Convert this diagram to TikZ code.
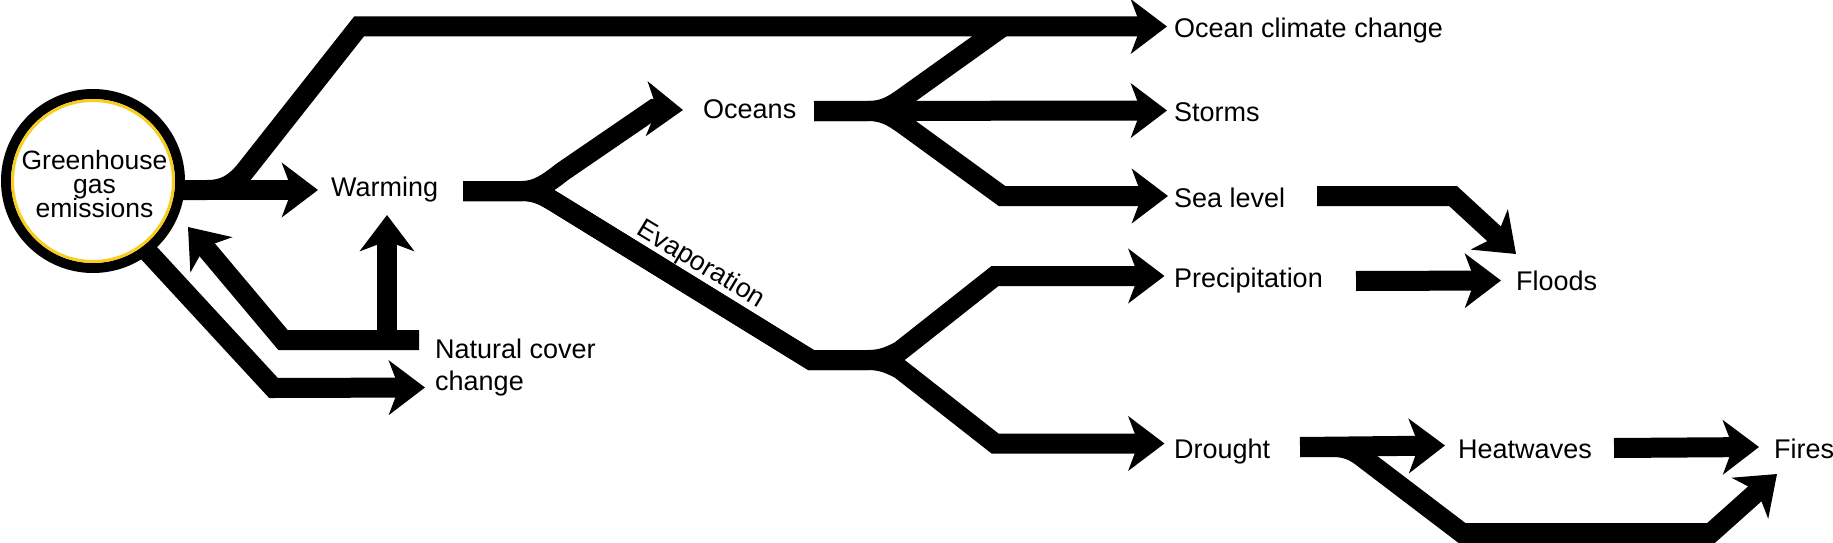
\documentclass[tikz,border=0pt]{standalone}
\usepackage{fontspec}
\setmainfont{Liberation Sans}
\usetikzlibrary{arrows.meta}
\pgfdeclarelayer{bg}
\pgfsetlayers{bg,main}
\definecolor{ringgold}{RGB}{248,206,30}
\begin{document}
\lineskiplimit=-100pt\relax
\begin{tikzpicture}[x=1pt, y=-1pt,
  flow/.style={line width=20pt, line join=miter, -{Stealth[length=36pt,width=54pt,inset=10pt]}},
  link/.style={line width=20pt, line join=miter},
  txt/.style={font=\fontsize{27}{32}\selectfont, inner sep=0pt},
  lbl/.style={txt, anchor=base west}]
\useasboundingbox (0,0) rectangle (1833,543);

% ---- circle ----
\node[circle, draw=black, line width=10pt, fill=white, minimum size=174pt, inner sep=0pt] (ghg) at (93,181) {};
\draw[ringgold, line width=3pt] (ghg.center) circle[radius=80.5pt];
\node[txt, align=center, font=\fontsize{26.5}{24.2}\selectfont] (ghgt) at (94.5,184) {Greenhouse\\gas\\emissions};

% ---- labels ----
\node[lbl] (warming) at (331,196) {Warming};
\node[lbl] (oceans) at (703,118) {Oceans};
\node[lbl] (occ) at (1174,37.5) {Ocean climate change};
\node[lbl] (storms) at (1174,121.5) {Storms};
\node[lbl] (sealevel) at (1174,207.5) {Sea level};
\node[lbl] (precip) at (1174,287.3) {Precipitation};
\node[lbl] (floods) at (1516,290.7) {Floods};
\node[lbl] (drought) at (1174,458.3) {Drought};
\node[lbl] (heat) at (1458,458.3) {Heatwaves};
\node[lbl] (fires) at (1774,458) {Fires};
\node[txt, align=left, anchor=west] (natural) at (435,367.3) {Natural cover\\change};
\node[txt, rotate=-31, anchor=base] (evap) at (697,271) {Evaporation};

% ---- connector ends ----
\coordinate (toWarming) at (318,190);
\coordinate (toOCC) at (1167,26.5);
\coordinate (natStart) at (112,213);
\coordinate (toNatural) at (425,387.5);
\coordinate (natTail) at (419,340);
\coordinate (toGhg) at (188,227);
\coordinate (toWarmUp) at (387,215);
\coordinate (warmTail) at (463,191);
\coordinate (toOceans) at (683,110);
\coordinate (toPrecip) at (1164.5,276);
\coordinate (toDrought) at (1164.5,443.5);
\coordinate (oceTail) at (814,111);
\coordinate (toStorms) at (1167,110.5);
\coordinate (toSea) at (1168,196);
\coordinate (seaTail) at (1317,196);
\coordinate (toFloodsA) at (1516,254);
\coordinate (precTail) at (1356,281);
\coordinate (toFloodsB) at (1501,280.5);
\coordinate (drTail) at (1300,447);
\coordinate (toHeat) at (1445,445.5);
\coordinate (heatTail) at (1614,448);
\coordinate (toFiresA) at (1759,447);
\coordinate (toFiresB) at (1777,474);

\begin{pgfonlayer}{bg}
% greenhouse gas emissions
\draw[flow] (ghg.center |- toWarming) -- (toWarming);
\draw[flow] (ghg.center |- toWarming) -- (207,190) .. controls (224,190) and (234,184) .. (245,171)
  -- (359,26.5) -- (toOCC);
\draw[flow] (natStart) -- (273.5,388) -- (toNatural);
% natural cover change
\draw[flow] (natTail) -- (283,340) -- (toGhg);
\draw[flow] (toWarmUp |- natTail) -- (toWarmUp);
% warming
\draw[flow] (warmTail) -- (522,191) .. controls (537,191) and (548,183) .. (562,172)
  -- (654,109) -- (toOceans);
\draw[flow] (warmTail) -- (522,191) .. controls (535,191) and (543,195) .. (553,201)
  -- (811,360) -- (868,360) .. controls (882,360) and (890,356) .. (900,351) -- (995,276) -- (toPrecip);
\draw[flow] (warmTail) -- (522,191) .. controls (535,191) and (543,195) .. (553,201)
  -- (811,360) -- (868,360) .. controls (882,360) and (890,364) .. (900,369) -- (995,443.5) -- (toDrought);
% oceans
\draw[link] (oceTail) -- (868,111) .. controls (884,111) and (893,105) .. (903,98) -- (1003,26.5);
\draw[flow] (oceTail) -- (toStorms);
\draw[flow] (oceTail) -- (868,111) .. controls (884,111) and (893,117) .. (903,124) -- (1002,196) -- (toSea);
% floods
\draw[flow] (seaTail) -- (1453,196) -- (toFloodsA);
\draw[flow] (precTail) -- (toFloodsB);
% drought
\draw[flow] (drTail) -- (toHeat);
\draw[flow] (drTail) -- (1333,447) .. controls (1348,447) and (1356,452) .. (1366,460)
  -- (1462,533) -- (1711,533) -- (toFiresB);
\draw[flow] (heatTail) -- (toFiresA);
\end{pgfonlayer}
\end{tikzpicture}
\end{document}
